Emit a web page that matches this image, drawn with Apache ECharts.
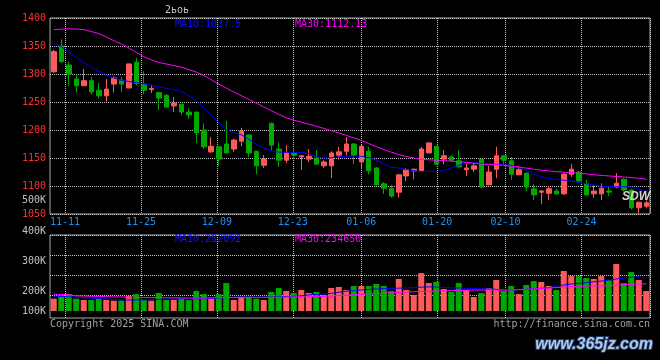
<!DOCTYPE html>
<html><head><meta charset="utf-8">
<script src="https://cdn.jsdelivr.net/npm/echarts@6/dist/echarts.min.js"></script>
<style>html,body{margin:0;padding:0;background:#000}#c{width:660px;height:360px}</style>
</head><body><div id="c"></div>
<script>
// trading days
const dates = ['11-07','11-08','11-11','11-12','11-13','11-14','11-15','11-18','11-19','11-20',
'11-21','11-22','11-25','11-26','11-27','11-28','11-29','12-02','12-03','12-04',
'12-05','12-06','12-09','12-10','12-11','12-12','12-13','12-16','12-17','12-18',
'12-19','12-20','12-23','12-24','12-25','12-26','12-27','12-30','12-31','01-02',
'01-03','01-06','01-07','01-08','01-09','01-10','01-13','01-14','01-15','01-16',
'01-17','01-20','01-21','01-22','01-23','01-24','01-27','02-05','02-06','02-07',
'02-10','02-11','02-12','02-13','02-14','02-17','02-18','02-19','02-20','02-21',
'02-24','02-25','02-26','02-27','02-28','03-03','03-04','03-05','03-06','03-07'];
// date labels / vertical grid lines (the source draws its date grid on a slightly wider 79-slot spacing)
const tickDates = ['11-11','11-25','12-09','12-23','01-06','01-20','02-10','02-24'];
const gridSlots = dates.slice(0, 79);

const open = [1304,1350,1316,1291,1279,1288,1271,1261,1282,1289,
1275,1321,1282,1272,1267,1262,1243,1246,1232,1232,
1200,1161,1170,1175,1166,1180,1191,1162,1137,1212,
1166,1146,1159,1152,1148,1150,1136,1136,1155,1162,
1175,1143,1162,1132,1104,1096,1089,1118,1127,1127,
1159,1171,1148,1152,1145,1129,1130,1148,1102,1130,
1154,1145,1120,1123,1095,1089,1087,1091,1086,1121,
1125,1104,1086,1086,1091,1098,1112,1093,1061,1064];
const close = [1340,1322,1300,1279,1288,1268,1261,1273,1293,1282,
1318,1283,1271,1274,1257,1241,1248,1232,1227,1195,
1170,1171,1148,1159,1182,1198,1159,1136,1148,1173,
1146,1159,1155,1154,1153,1139,1143,1159,1161,1175,
1155,1171,1127,1102,1096,1082,1120,1129,1130,1166,
1177,1139,1154,1146,1134,1132,1136,1098,1125,1154,
1146,1121,1129,1098,1084,1091,1095,1086,1121,1130,
1109,1084,1091,1096,1089,1105,1093,1061,1071,1070];
const low = [1302,1320,1278,1267,1279,1263,1257,1251,1267,1268,
1275,1280,1264,1266,1236,1239,1232,1227,1220,1177,
1166,1159,1136,1159,1161,1171,1152,1121,1132,1164,
1134,1141,1148,1129,1143,1139,1132,1114,1147,1155,
1139,1130,1121,1102,1086,1079,1080,1109,1112,1127,
1159,1139,1139,1146,1134,1118,1125,1096,1102,1114,
1139,1111,1120,1091,1075,1068,1075,1084,1084,1116,
1107,1084,1079,1075,1082,1096,1090,1058,1052,1060];
const high = [1343,1362,1322,1299,1309,1295,1284,1291,1296,1295,
1318,1329,1305,1280,1268,1264,1259,1247,1239,1233,
1212,1187,1171,1216,1184,1204,1192,1163,1155,1213,
1178,1173,1168,1155,1166,1164,1146,1162,1170,1187,
1177,1173,1170,1134,1107,1102,1121,1132,1131,1170,
1178,1172,1164,1155,1164,1139,1141,1148,1136,1170,
1154,1152,1136,1124,1104,1093,1100,1095,1123,1139,
1126,1111,1102,1105,1100,1123,1114,1094,1072,1074];
const ma10 = [1354.8,1349.1,1338.6,1329.5,1320.5,1312,1305.2,1298.6,1293,1288.9,
1286.6,1284.5,1282.3,1280,1277.7,1274.5,1271.8,1268.8,1260.9,1251.4,
1240.2,1227.1,1213,1200.9,1195,1191.4,1183.4,1174.6,1167.5,1162.7,
1160.5,1160.2,1160.2,1159.8,1157.9,1152.3,1149.6,1150.4,1152,1153,
1153.6,1153,1150.7,1146.1,1140,1133.4,1132,1129.6,1127.3,1125.7,
1126.4,1125.9,1127.7,1132,1136.8,1140.7,1141.8,1140.4,1138.9,1138.8,
1138.2,1136.8,1132.5,1127.7,1121.8,1116.6,1113.4,1111.6,1110.4,1108.6,
1106.3,1104.1,1101.8,1099.6,1098.9,1098.8,1098.8,1098.2,1094.6,1090.4];
const ma30 = [1379.1,1380.2,1380.7,1380.2,1379.3,1375.9,1372.1,1366.3,1359.6,1353.6,
1346.6,1338.8,1331.1,1325.2,1320.5,1317.9,1315,1312.3,1307.9,1303.4,
1297.5,1289.6,1281.6,1274.8,1268,1261.4,1254.6,1248,1241.3,1234.6,
1227.9,1221.8,1217.5,1214.1,1210.4,1206.6,1202.9,1198.9,1194.8,1190.4,
1185.9,1181.4,1175.7,1170.2,1165,1160.5,1156.1,1152.9,1150,1147.5,
1146.8,1145.9,1145.2,1144.3,1143.6,1142.1,1140.5,1139.3,1138.6,1137.9,
1136.8,1135.2,1133.8,1132,1130,1128.2,1127,1125.7,1124.6,1123.8,
1122.9,1121.6,1120.2,1118.9,1118,1117.1,1116.1,1115,1113.9,1112.1];
// volume, thousands of shares
const volume = [106,138,146,106,95,95,112,95,89,89,
129,146,95,89,155,95,95,112,95,172,
146,106,146,241,95,123,123,106,95,164,
198,172,155,181,155,164,138,198,207,181,
215,215,215,233,215,172,276,181,138,327,
241,250,190,164,241,181,121,155,198,267,
172,215,146,224,258,250,215,181,345,301,
301,284,276,301,267,405,241,336,267,172];
const volMa10 = [127,125,122,120,116,111,107,103,98,95,
95,95,96,98,100,103,104,106,106,106,
107,109,112,115,120,123,121,118,120,121,
123,125,127,131,139,144,147,152,162,171,
175,181,186,190,193,196,197,200,202,206,
208,206,203,200,198,196,194,192,190,187,
183,182,184,188,191,196,200,214,225,233,
239,245,252,258,266,276,284,291,295,282];
const volMa30 = [144,144,141,131,129,127,126,124,122,121,
119,118,117,116,115,115,114,113,112,112,
112,114,115,116,117,117,118,118,118,118,
119,120,121,121,123,125,127,129,133,136,
140,144,148,151,154,157,160,164,166,169,
171,173,174,176,177,180,181,181,181,181,
181,181,184,188,191,195,198,202,207,210,
213,215,215,215,218,222,227,230,232,235];

const priceLegend = ['MA10:1037.5', 'MA30:1112.13'];
const volLegend = ['MA10:282092', 'MA30:234650'];
const volTickLabels = ['500K', '400K', '300K', '200K', '100K'];
const volTickY = [200, 231, 261, 291, 311];
const titleText = '2ьоь';
const copyright = 'Copyright 2025 SINA.COM';
const siteUrl = 'http://finance.sina.com.cn';
const watermark = 'www.365jz.com';

const FONT = 'DejaVu Sans Mono';
const RED = '#ff5a5a', GREEN = '#00a800';
const GRIDC = '#c4c4c4', BORDER = '#aaaaaa';
const K = 1000;

const kdata = dates.map((d, i) => [open[i], close[i], low[i], high[i]]);
const volData = volume.map((v, i) => ({ value: v * K, itemStyle: { color: close[i] >= open[i] ? RED : GREEN } }));
const isTick = (i, v) => tickDates.indexOf(v) >= 0;

const hiddenCat = (grid, data, pos) => ({
  type: 'category', gridIndex: grid, data: data, boundaryGap: true, position: pos,
  axisLine: { show: false }, axisTick: { show: false }, axisLabel: { show: false }, splitLine: { show: false }
});
const dotted = { color: GRIDC, type: 'dotted', width: 1 };

const txt = (x, y, text, fill, align, extra) => Object.assign({
  type: 'text', x: x, y: y, z: 50,
  style: Object.assign({ text: text, fill: fill, font: '10px "' + FONT + '"', align: align || 'left', verticalAlign: 'middle' }, extra || {})
});

const graphics = [
  txt(165, 10, titleText, '#c8c8c8', 'left'),
  txt(175, 24, priceLegend[0], '#1010ff', 'left'),
  txt(295, 24, priceLegend[1], '#ff00ff', 'left'),
  txt(175, 239, volLegend[0], '#1010ff', 'left'),
  txt(295, 239, volLegend[1], '#ff00ff', 'left'),
  txt(50, 324, copyright, '#a0a0a0', 'left'),
  txt(650, 324, siteUrl, '#a0a0a0', 'right'),
  {
    type: 'text', x: 653, y: 345, z: 60,
    style: { text: watermark, fill: '#b4c8e4', stroke: '#1c3a72', lineWidth: 2,
      font: 'italic bold 16px "Liberation Sans"', align: 'right', verticalAlign: 'middle' }
  },
  {
    type: 'text', x: 636, y: 197, z: 60,
    style: { text: 'SDW', fill: '#d8d0d0', font: 'italic bold 12px "Liberation Sans"', align: 'center', verticalAlign: 'middle' }
  }
];
volTickLabels.forEach((t, i) => graphics.push(txt(46, volTickY[i], t, '#c0c0c0', 'right')));

const option = {
  backgroundColor: '#000',
  animation: false,
  grid: [
    { left: 50, top: 18, width: 600, height: 196, show: true, borderColor: BORDER, borderWidth: 1, backgroundColor: 'transparent' },
    { left: 50, top: 235, width: 600, height: 83, show: true, borderColor: BORDER, borderWidth: 1, backgroundColor: 'transparent' }
  ],
  xAxis: [
    hiddenCat(0, dates, 'top'),
    {
      type: 'category', gridIndex: 0, data: gridSlots, boundaryGap: true, position: 'bottom',
      axisLine: { show: false }, axisTick: { show: false },
      axisLabel: { interval: isTick, color: '#2090f0', fontFamily: FONT, fontSize: 10, margin: 3, padding: [0, 8, 0, 0] },
      splitLine: { show: true, interval: isTick, lineStyle: dotted }
    },
    hiddenCat(1, dates, 'top'),
    {
      type: 'category', gridIndex: 1, data: gridSlots, boundaryGap: true, position: 'bottom',
      axisLine: { show: false }, axisTick: { show: false }, axisLabel: { show: false },
      splitLine: { show: true, interval: isTick, lineStyle: dotted }
    }
  ],
  yAxis: [
    {
      type: 'value', gridIndex: 0, min: 1050, max: 1400, interval: 50,
      axisLine: { show: false }, axisTick: { show: false },
      axisLabel: { color: '#ff3030', fontFamily: FONT, fontSize: 10, margin: 4, formatter: v => String(v) },
      splitLine: { show: true, lineStyle: dotted }
    },
    { type: 'value', gridIndex: 1, min: -60000, max: 655000, show: false },
    {
      type: 'value', gridIndex: 1, min: 0, max: 83, interval: 20, inverse: true,
      axisLine: { show: false }, axisTick: { show: false }, axisLabel: { show: false },
      splitLine: { show: true, lineStyle: { color: [GRIDC, GRIDC, GRIDC, GRIDC, 'rgba(0,0,0,0)', 'rgba(0,0,0,0)'], type: 'dotted', width: 1 } }
    }
  ],
  series: [
    {
      type: 'candlestick', xAxisIndex: 0, yAxisIndex: 0, data: kdata, barWidth: 5,
      itemStyle: { color: RED, color0: GREEN, borderColor: RED, borderColor0: GREEN, borderWidth: 1 }
    },
    { type: 'line', xAxisIndex: 0, yAxisIndex: 0, data: ma10, showSymbol: false, silent: true, lineStyle: { color: '#0000ff', width: 1 } },
    { type: 'line', xAxisIndex: 0, yAxisIndex: 0, data: ma30, showSymbol: false, silent: true, lineStyle: { color: '#ff00ff', width: 1 } },
    { type: 'bar', xAxisIndex: 2, yAxisIndex: 1, data: volData, barWidth: 6 },
    { type: 'line', xAxisIndex: 2, yAxisIndex: 1, data: volMa10.map(v => v * K), showSymbol: false, silent: true, lineStyle: { color: '#0000ff', width: 1 } },
    { type: 'line', xAxisIndex: 2, yAxisIndex: 1, data: volMa30.map(v => v * K), showSymbol: false, silent: true, lineStyle: { color: '#ff00ff', width: 1 } }
  ],
  graphic: graphics
};
const chart = echarts.init(document.getElementById('c'), null, { renderer: 'canvas' });
chart.setOption(option);
</script></body></html>
